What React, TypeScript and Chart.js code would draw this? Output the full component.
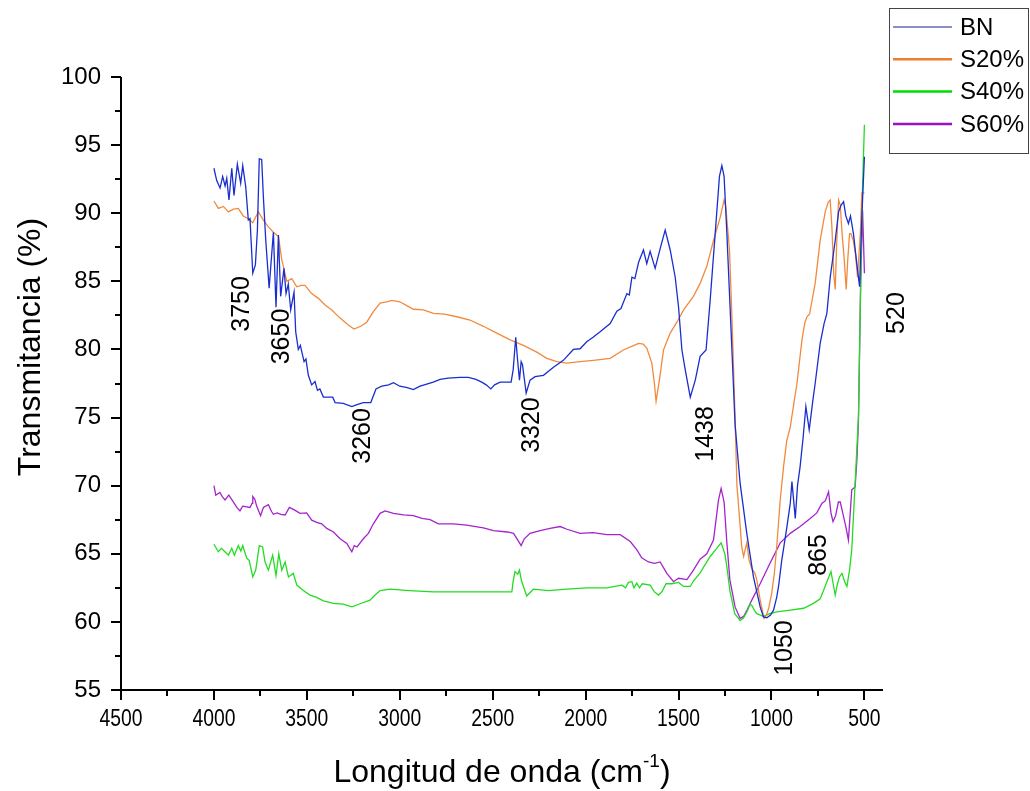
import React, { useEffect, useRef } from 'react';
import { Chart, registerables } from 'chart.js';

Chart.register(...registerables);

// ---------- DATA ----------
const seriesNames = ['BN', 'S20%', 'S40%', 'S60%'];

const bnX = [4000, 3985, 3967, 3953, 3940, 3931, 3919, 3904, 3892, 3874, 3856, 3845, 3829, 3815, 3806, 3791, 3777, 3766, 3756, 3743, 3734, 3721, 3703, 3693, 3680, 3666, 3653, 3641, 3623, 3612, 3600, 3587, 3569, 3560, 3546, 3535, 3515, 3505, 3492, 3474, 3456, 3443, 3430, 3411, 3385, 3361, 3348, 3304, 3258, 3230, 3196, 3156, 3128, 3097, 3060, 3034, 3000, 2960, 2927, 2891, 2855, 2820, 2783, 2740, 2676, 2631, 2590, 2559, 2535, 2510, 2490, 2460, 2401, 2390, 2376, 2368, 2356, 2347, 2340, 2320, 2299, 2272, 2227, 2173, 2120, 2066, 2030, 1994, 1960, 1922, 1868, 1832, 1810, 1778, 1765, 1751, 1735, 1715, 1689, 1671, 1653, 1626, 1599, 1572, 1545, 1518, 1500, 1482, 1464, 1437, 1410, 1384, 1352, 1330, 1303, 1280, 1267, 1255, 1240, 1213, 1196, 1169, 1133, 1097, 1061, 1043, 1025, 1005, 989, 972, 962, 945, 917, 899, 890, 872, 860, 846, 830, 815, 797, 777, 765, 738, 717, 702, 684, 657, 639, 625, 612, 600, 586, 575, 559, 541, 526, 514, 500];
const bnY = [93.3, 92.4, 91.85, 92.7, 92.0, 92.56, 90.97, 93.3, 91.3, 93.6, 92.2, 93.5, 91.95, 89.5, 89.6, 85.6, 86.2, 88.77, 94.0, 93.95, 91.2, 88.0, 84.5, 86.3, 88.6, 83.1, 88.4, 83.9, 85.95, 84.1, 84.8, 82.9, 84.2, 81.3, 80.0, 80.3, 79.1, 79.3, 78.1, 77.4, 77.65, 77.0, 77.1, 76.5, 76.5, 76.5, 76.1, 76.04, 75.8, 75.95, 76.1, 76.1, 77.1, 77.3, 77.4, 77.56, 77.3, 77.2, 77.05, 77.3, 77.45, 77.6, 77.8, 77.9, 77.95, 77.95, 77.8, 77.6, 77.4, 77.1, 77.4, 77.6, 77.6, 78.5, 80.9, 79.5, 77.75, 79.1, 78.9, 76.8, 77.75, 78.0, 78.1, 78.7, 79.2, 80.0, 80.05, 80.57, 80.9, 81.3, 81.9, 82.8, 83.0, 84.1, 84.0, 85.3, 85.2, 86.4, 87.3, 86.3, 87.2, 85.95, 87.4, 88.77, 87.3, 85.3, 83.1, 79.96, 78.5, 76.5, 77.75, 79.5, 79.96, 83.6, 88.5, 92.7, 93.5, 92.7, 88.5, 80.0, 74.5, 70.2, 66.5, 63.3, 61.1, 60.37, 60.3, 60.5, 60.86, 61.8, 62.6, 64.5, 66.98, 68.7, 70.3, 67.6, 70.0, 71.4, 73.5, 75.8, 74.1, 76.3, 77.5, 80.45, 81.9, 82.65, 85.3, 88.0, 90.1, 90.6, 90.85, 89.8, 89.25, 89.8, 88.5, 86.3, 84.6, 89.7, 94.15];

const s20X = [4000, 3976, 3949, 3922, 3895, 3869, 3842, 3815, 3791, 3761, 3734, 3707, 3680, 3653, 3635, 3608, 3581, 3554, 3530, 3510, 3474, 3438, 3402, 3366, 3321, 3277, 3246, 3210, 3178, 3142, 3106, 3070, 3043, 3000, 2960, 2927, 2873, 2819, 2760, 2693, 2622, 2550, 2478, 2406, 2335, 2263, 2209, 2155, 2101, 2030, 1958, 1868, 1797, 1740, 1715, 1690, 1671, 1644, 1630, 1621, 1612, 1603, 1581, 1545, 1509, 1473, 1420, 1384, 1348, 1312, 1276, 1255, 1246, 1226, 1213, 1196, 1186, 1177, 1160, 1150, 1133, 1120, 1106, 1090, 1079, 1061, 1040, 1030, 1015, 999, 985, 972, 953, 935, 918, 899, 880, 863, 836, 820, 809, 795, 765, 738, 711, 695, 684, 675, 665, 657, 650, 639, 630, 620, 608, 598, 590, 580, 573, 560, 548, 537, 522, 514, 500];
const s20Y = [90.9, 90.35, 90.5, 90.1, 90.3, 90.35, 89.8, 89.6, 89.3, 90.1, 89.5, 89.0, 88.6, 88.3, 86.6, 85.0, 85.2, 84.6, 84.7, 84.7, 84.1, 83.75, 83.26, 82.9, 82.3, 81.8, 81.5, 81.7, 82.0, 82.77, 83.4, 83.5, 83.6, 83.5, 83.2, 82.95, 82.9, 82.65, 82.6, 82.4, 82.16, 81.7, 81.2, 80.7, 80.3, 79.8, 79.35, 79.1, 79.0, 79.1, 79.2, 79.35, 79.96, 80.3, 80.45, 80.4, 80.1, 79.0, 77.5, 76.2, 77.0, 77.75, 79.96, 81.2, 82.0, 82.9, 83.9, 84.85, 86.1, 88.0, 89.7, 90.97, 90.5, 87.3, 82.4, 75.06, 70.0, 68.5, 65.5, 64.8, 65.8, 64.5, 63.9, 63.6, 63.07, 61.6, 60.26, 60.4, 61.0, 62.1, 63.5, 65.5, 68.95, 71.4, 73.3, 74.3, 76.0, 77.5, 80.7, 82.0, 82.4, 82.6, 84.85, 88.0, 90.1, 90.8, 90.97, 89.0, 85.5, 84.4, 87.5, 90.97, 90.6, 88.5, 86.5, 84.4, 86.5, 88.5, 88.5, 88.0, 87.0, 85.3, 88.5, 91.5, 91.5];

const s40X = [4000, 3976, 3960, 3945, 3922, 3904, 3890, 3869, 3855, 3845, 3824, 3810, 3791, 3775, 3756, 3738, 3725, 3707, 3684, 3666, 3651, 3635, 3617, 3599, 3573, 3554, 3519, 3483, 3447, 3411, 3357, 3304, 3258, 3210, 3160, 3133, 3106, 3052, 2950, 2819, 2600, 2397, 2390, 2380, 2365, 2356, 2345, 2317, 2281, 2200, 2101, 1994, 1886, 1805, 1785, 1770, 1751, 1740, 1725, 1710, 1695, 1653, 1630, 1608, 1590, 1567, 1536, 1500, 1473, 1437, 1420, 1384, 1330, 1300, 1271, 1251, 1240, 1224, 1213, 1198, 1186, 1169, 1150, 1130, 1115, 1106, 1090, 1079, 1060, 1043, 1010, 972, 899, 827, 774, 738, 720, 702, 680, 668, 657, 645, 634, 621, 605, 594, 580, 568, 550, 532, 520, 510, 500];
const s40Y = [65.7, 65.15, 65.4, 65.2, 64.9, 65.4, 64.9, 65.6, 65.2, 65.6, 64.7, 64.5, 63.3, 63.8, 65.6, 65.5, 64.4, 63.8, 64.9, 63.4, 65.0, 63.8, 64.4, 63.3, 63.56, 62.7, 62.3, 61.97, 61.8, 61.55, 61.36, 61.3, 61.1, 61.35, 61.6, 61.97, 62.3, 62.4, 62.3, 62.2, 62.2, 62.2, 63.0, 63.7, 63.5, 63.8, 63.0, 61.9, 62.4, 62.3, 62.4, 62.5, 62.5, 62.7, 62.5, 62.9, 62.95, 62.5, 62.85, 62.5, 62.8, 62.7, 62.2, 61.97, 62.2, 62.8, 62.8, 62.9, 62.6, 62.6, 63.0, 63.6, 64.8, 65.3, 65.8, 65.0, 64.05, 62.3, 61.6, 60.6, 60.4, 60.1, 60.3, 60.8, 61.3, 61.2, 60.8, 60.6, 60.5, 60.4, 60.6, 60.74, 60.86, 61.0, 61.36, 61.7, 62.3, 62.95, 63.7, 62.8, 61.97, 62.8, 63.3, 63.56, 62.9, 62.6, 63.8, 65.3, 70.2, 75.1, 85.0, 92.0, 96.5];

const s60X = [4000, 3990, 3968, 3955, 3940, 3920, 3900, 3877, 3860, 3845, 3806, 3795, 3791, 3780, 3770, 3749, 3734, 3707, 3690, 3680, 3660, 3640, 3617, 3594, 3565, 3537, 3501, 3474, 3447, 3420, 3393, 3357, 3321, 3285, 3258, 3245, 3230, 3196, 3169, 3142, 3106, 3079, 3034, 2980, 2927, 2880, 2837, 2792, 2711, 2640, 2550, 2496, 2420, 2388, 2365, 2347, 2330, 2299, 2245, 2191, 2137, 2100, 2030, 1960, 1886, 1814, 1760, 1725, 1698, 1662, 1630, 1599, 1563, 1527, 1500, 1455, 1420, 1384, 1348, 1312, 1285, 1271, 1255, 1240, 1224, 1196, 1169, 1150, 1130, 1106, 1061, 1008, 953, 899, 846, 800, 756, 729, 710, 693, 680, 669, 655, 640, 630, 620, 600, 586, 568, 550, 540, 532, 520, 510, 505, 500];
const s60Y = [70.0, 69.3, 69.5, 69.2, 68.95, 69.3, 68.9, 68.4, 68.15, 68.5, 68.4, 68.7, 69.2, 69.0, 68.5, 67.8, 68.4, 68.6, 68.1, 67.9, 68.0, 67.9, 67.85, 68.4, 68.2, 67.97, 68.0, 67.47, 67.3, 67.2, 66.86, 66.6, 66.1, 65.76, 65.15, 65.6, 65.5, 66.1, 66.5, 67.2, 67.97, 68.15, 67.97, 67.85, 67.8, 67.6, 67.5, 67.2, 67.2, 67.1, 66.9, 66.7, 66.6, 66.5, 66.0, 65.6, 66.1, 66.5, 66.7, 66.86, 67.0, 66.8, 66.5, 66.55, 66.4, 66.4, 65.9, 65.3, 64.7, 64.4, 64.3, 64.4, 63.56, 62.95, 63.2, 63.1, 63.8, 64.6, 65.0, 66.0, 68.95, 69.8, 68.8, 65.8, 63.1, 61.1, 60.26, 60.4, 60.9, 61.6, 62.8, 64.3, 65.8, 66.5, 67.0, 67.5, 68.0, 68.7, 68.9, 69.55, 68.0, 67.35, 67.8, 68.8, 68.8, 68.2, 67.0, 66.0, 69.7, 69.9, 72.0, 74.8, 85.0, 90.2, 88.0, 85.6];

const xTickValues = [4500, 4000, 3500, 3000, 2500, 2000, 1500, 1000, 500];
const xTickLabels = ['4500', '4000', '3500', '3000', '2500', '2000', '1500', '1000', '500'];
const yTickValues = [55, 60, 65, 70, 75, 80, 85, 90, 95, 100];

const peakLabels = ['3750', '3650', '3260', '3320', '1438', '1050', '865', '520'];
const peakX = [3849, 3631, 3198, 2288, 1352, 926, 743, 324];
const peakY = [83.34, 80.95, 73.65, 74.45, 73.8, 58.08, 64.91, 82.67];

const xTitle = 'Longitud de onda (cm';
const xTitleSup = '-1';
const yTitle = 'Transmitancia (%)';

// ---------- STYLE ----------
const FONT = "'Liberation Sans', Arial, Helvetica, sans-serif";
const lineColors = ['#1a2ed0', '#f28a3e', '#22dc22', '#a424cc'];
const legendColors = ['#16208a', '#ee7d2e', '#00dd00', '#9c10c8'];
const legendWidths = [1.2, 2.5, 2.5, 2.5];

const toPoints = (xs: number[], ys: number[]) => xs.map((x, i) => ({ x, y: ys[i] }));

const decorPlugin = {
  id: 'decor',
  afterDraw(chart: any) {
    const ctx: CanvasRenderingContext2D = chart.ctx;
    const { left, right, top, bottom } = chart.chartArea;
    const xs = chart.scales.x;
    const ys = chart.scales.y;
    ctx.save();
    ctx.strokeStyle = '#000';
    ctx.fillStyle = '#000';
    ctx.lineWidth = 2;
    ctx.beginPath();
    ctx.moveTo(left, top);
    ctx.lineTo(left, bottom);
    ctx.lineTo(right, bottom);
    ctx.stroke();

    ctx.beginPath();
    for (let v = 55; v <= 100.01; v += 2.5) {
      const py = Math.round(ys.getPixelForValue(v));
      const major = Math.abs(v % 5) < 0.01;
      ctx.moveTo(left, py);
      ctx.lineTo(left - (major ? 10 : 6), py);
    }
    for (let v = 500; v <= 4500.01; v += 250) {
      const px = Math.round(xs.getPixelForValue(v));
      const major = Math.abs(v % 500) < 0.01;
      ctx.moveTo(px, bottom);
      ctx.lineTo(px, bottom + (major ? 10 : 6));
    }
    ctx.stroke();

    // x tick labels (condensed, like the original)
    ctx.font = `23px ${FONT}`;
    ctx.textAlign = 'center';
    ctx.textBaseline = 'top';
    xTickValues.forEach((v, i) => {
      const px = xs.getPixelForValue(v);
      ctx.save();
      ctx.translate(px, bottom + 18);
      ctx.scale(0.84, 1);
      ctx.fillText(xTickLabels[i], 0, 0);
      ctx.restore();
    });

    // axis titles
    ctx.font = `32px ${FONT}`;
    ctx.textBaseline = 'middle';
    ctx.save();
    ctx.translate(31, 347);
    ctx.rotate(-Math.PI / 2);
    ctx.textAlign = 'center';
    ctx.fillText(yTitle, 0, 0);
    ctx.restore();

    const mainW = ctx.measureText(xTitle).width;
    ctx.font = `19px ${FONT}`;
    const supW = ctx.measureText(xTitleSup).width;
    ctx.font = `32px ${FONT}`;
    const closeW = ctx.measureText(')').width;
    const total = mainW + supW + closeW;
    let sx = 502 - total / 2;
    const ty = 773;
    ctx.textAlign = 'left';
    ctx.fillText(xTitle, sx, ty);
    sx += mainW;
    ctx.font = `19px ${FONT}`;
    ctx.fillText(xTitleSup, sx, ty - 11);
    sx += supW;
    ctx.font = `32px ${FONT}`;
    ctx.fillText(')', sx, ty);

    // peak annotations
    ctx.font = `25px ${FONT}`;
    ctx.textAlign = 'center';
    ctx.textBaseline = 'middle';
    peakLabels.forEach((t, i) => {
      const px = xs.getPixelForValue(peakX[i]);
      const py = ys.getPixelForValue(peakY[i]);
      ctx.save();
      ctx.translate(px, py);
      ctx.rotate(-Math.PI / 2);
      ctx.fillText(t, 0, 0);
      ctx.restore();
    });

    // legend
    const bx = 889.5, by = 8.5, bw = 139, bh = 145;
    ctx.fillStyle = '#fff';
    ctx.fillRect(bx, by, bw, bh);
    ctx.strokeStyle = '#444';
    ctx.lineWidth = 1;
    ctx.strokeRect(bx, by, bw, bh);
    ctx.font = `24px ${FONT}`;
    ctx.textAlign = 'left';
    ctx.textBaseline = 'middle';
    seriesNames.forEach((name, i) => {
      const ly = 27 + i * 32.3;
      ctx.strokeStyle = legendColors[i];
      ctx.lineWidth = legendWidths[i];
      ctx.beginPath();
      ctx.moveTo(893, ly);
      ctx.lineTo(952, ly);
      ctx.stroke();
      ctx.fillStyle = '#000';
      ctx.fillText(name, 960, ly + 1);
    });
    ctx.restore();
  },
};

export default function App() {
  const canvasRef = useRef<HTMLCanvasElement | null>(null);

  useEffect(() => {
    if (!canvasRef.current) return;
    const datasets = [
      [bnX, bnY],
      [s20X, s20Y],
      [s40X, s40Y],
      [s60X, s60Y],
    ].map(([xs, ys], i) => ({
      label: seriesNames[i],
      data: toPoints(xs as number[], ys as number[]),
      borderColor: lineColors[i],
      backgroundColor: lineColors[i],
      borderWidth: 1.3,
      pointRadius: 0,
      tension: 0,
      fill: false,
    }));

    const chart = new Chart(canvasRef.current, {
      type: 'line',
      data: { datasets },
      options: {
        animation: false,
        responsive: false,
        maintainAspectRatio: false,
        devicePixelRatio: 1,
        parsing: false,
        layout: { padding: { top: 77, right: 147, left: 0, bottom: 0 } },
        plugins: {
          legend: { display: false },
          tooltip: { enabled: false },
        },
        scales: {
          x: {
            type: 'linear',
            reverse: true,
            min: 400,
            max: 4500,
            grid: { display: false, drawTicks: false },
            border: { display: false },
            ticks: { display: false },
            afterBuildTicks: (scale: any) => {
              scale.ticks = xTickValues.map((v) => ({ value: v }));
            },
            afterFit: (scale: any) => {
              scale.height = 101;
            },
          },
          y: {
            type: 'linear',
            min: 55,
            max: 100,
            grid: { display: false, drawTicks: false },
            border: { display: false },
            ticks: {
              color: '#000',
              padding: 20,
              font: { family: FONT, size: 24 },
            },
            afterBuildTicks: (scale: any) => {
              scale.ticks = yTickValues.map((v) => ({ value: v }));
            },
            afterFit: (scale: any) => {
              scale.width = 121;
            },
          },
        },
      },
      plugins: [decorPlugin],
    } as any);

    return () => chart.destroy();
  }, []);

  return (
    <div style={{ position: 'absolute', left: 0, top: 0, width: 1030, height: 791, background: '#fff' }}>
      <canvas ref={canvasRef} width={1030} height={791} />
    </div>
  );
}
